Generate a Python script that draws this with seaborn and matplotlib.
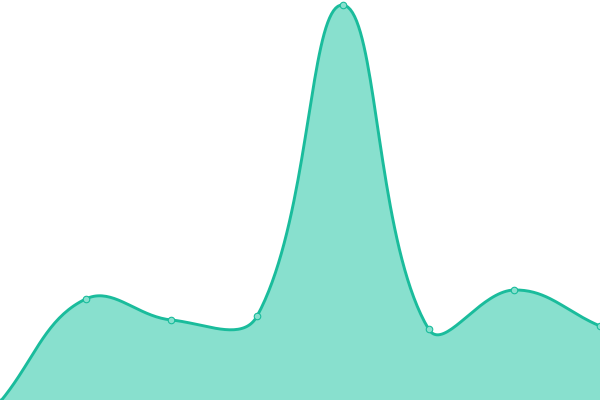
import numpy as np
import pandas as pd
import seaborn as sns
import matplotlib.pyplot as plt

# values (0 at the bottom edge, 400 at the top)
labels = ["A", "B", "C", "D", "E", "F", "G", "H"]
values = [-2, 101, 80, 84, 395, 71, 110, 74]

line_color = "#1abc9c"
fill_color = "#88e0ce"

W, H = 600, 400
sns.set_theme(style="white")

df = pd.DataFrame({"idx": np.arange(len(values)), "label": labels, "value": values})


def spline_path(x, y, tension=0.4, n=40):
    # bezier spline through the points, control points weighted by
    # the pixel distance to the neighbours
    sx_px = W / (len(x) - 1)
    pts = np.column_stack([np.asarray(x, float) * sx_px, np.asarray(y, float)])
    cps = []
    for i in range(len(pts)):
        prev = pts[i - 1] if i > 0 else pts[i]
        nxt = pts[i + 1] if i < len(pts) - 1 else pts[i]
        d01 = np.hypot(*(pts[i] - prev))
        d12 = np.hypot(*(nxt - pts[i]))
        s = d01 + d12
        fa = d01 / s if s else 0
        fb = d12 / s if s else 0
        cp_prev = pts[i] - fa * tension * (nxt - prev)
        cp_next = pts[i] + fb * tension * (nxt - prev)
        cp_prev[1] = np.clip(cp_prev[1], 0, H)
        cp_next[1] = np.clip(cp_next[1], 0, H)
        cps.append((cp_prev, cp_next))
    t = np.linspace(0, 1, n)[:, None]
    out = []
    for i in range(len(pts) - 1):
        p0, p3 = pts[i], pts[i + 1]
        c1, c2 = cps[i][1], cps[i + 1][0]
        b = (1 - t) ** 3 * p0 + 3 * (1 - t) ** 2 * t * c1 + 3 * (1 - t) * t ** 2 * c2 + t ** 3 * p3
        out.append(b)
    out = np.vstack(out)
    return out[:, 0] / sx_px, out[:, 1]


fig = plt.figure(figsize=(6, 4), dpi=100)
ax = fig.add_axes([0, 0, 1, 1])

sx, sy = spline_path(df["idx"], df["value"])
ax.fill_between(sx, sy, 0, color=fill_color, linewidth=0)
ax.plot(sx, sy, color=line_color, linewidth=2.1, solid_capstyle="round")
sns.scatterplot(data=df, x="idx", y="value", ax=ax, s=22, color=fill_color,
                edgecolor=line_color, linewidth=0.8, zorder=5, legend=False)

ax.set_xlim(0, len(values) - 1)
ax.set_ylim(0, H)
ax.axis("off")

plt.savefig("out.png", dpi=100)
